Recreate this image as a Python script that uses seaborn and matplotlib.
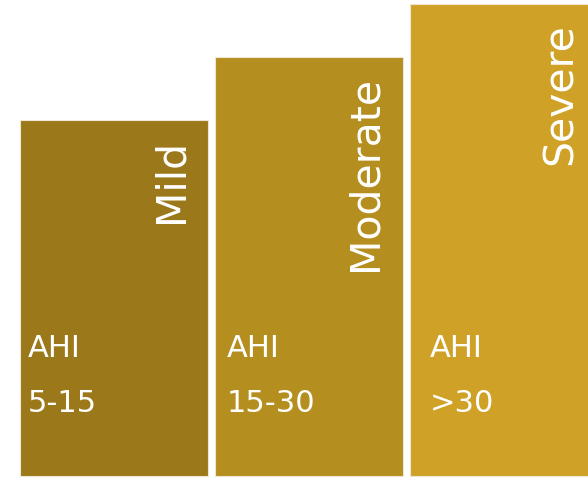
import matplotlib
matplotlib.use("Agg")
import matplotlib.pyplot as plt
import seaborn as sns
import pandas as pd

# Sleep apnea severity steps
categories = ["Mild", "Moderate", "Severe"]
heights = [356, 419, 472]
ahi_ranges = ["5-15", "15-30", ">30"]
colors = ["#9b781a", "#b58e20", "#cfa127"]

sns.set_theme(style="white")
plt.rcParams["font.family"] = ["DejaVu Sans"]

df = pd.DataFrame({"level": categories, "height": heights})

fig = plt.figure(figsize=(5.88, 4.78), dpi=100)
ax = fig.add_axes([0, 0, 1, 1])
sns.barplot(data=df, x="level", y="height", hue="level", palette=colors,
            saturation=1, width=188 / 195, legend=False, ax=ax,
            edgecolor="#efe6d2", linewidth=0.8)

ax.set_xlim(-0.585, 2.431)
ax.set_ylim(-2, 476)
ax.set_axis_off()

# horizontal inset of the AHI captions from each bar's left edge (pixels)
inset = [8, 12, 20]

for patch, name, rng, dx in zip(ax.patches, categories, ahi_ranges, inset):
    right = patch.get_x() + patch.get_width()
    top = patch.get_height()
    ax.annotate(name, xy=(right, top), xytext=(-26, -19),
                textcoords="offset pixels", rotation=90,
                rotation_mode="anchor", ha="right", va="baseline",
                color="white", fontsize=29.5, annotation_clip=False)
    left = patch.get_x()
    ax.annotate("AHI", xy=(left, 0), xytext=(dx, 119),
                textcoords="offset pixels", ha="left", va="baseline",
                color="white", fontsize=22, annotation_clip=False)
    ax.annotate(rng, xy=(left, 0), xytext=(dx, 64),
                textcoords="offset pixels", ha="left", va="baseline",
                color="white", fontsize=22, annotation_clip=False)

fig.savefig("out.png", dpi=100, facecolor="white")
